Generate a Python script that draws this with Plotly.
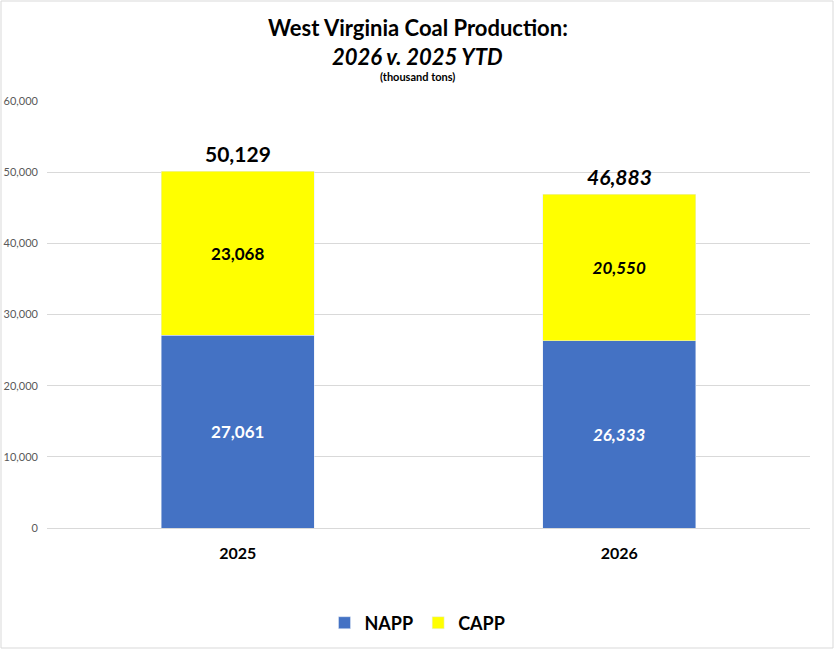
import plotly.graph_objects as go

years = ["2025", "2026"]
napp = [27061, 26333]
capp = [23068, 20550]
totals = [50129, 46883]
label_italic = [False, True]

FONT = "Lato"

W, H = 835, 650
L, R, T, B = 47, 25, 101, 122


def fmt(v, italic):
    s = f"{v:,}"
    return f"<b><i>{s}</i></b>" if italic else f"<b>{s}</b>"


fig = go.Figure()
fig.add_trace(go.Bar(
    x=years, y=napp, name="<b>NAPP</b>", marker_color="#4472C4",
    text=[fmt(v, i) for v, i in zip(napp, label_italic)],
    textposition="inside", insidetextanchor="middle",
    textfont=dict(color="white", size=17, family=FONT),
    hoverinfo="skip",
))
fig.add_trace(go.Bar(
    x=years, y=capp, name="<b>CAPP</b>", marker_color="#FFFF00",
    text=[fmt(v, i) for v, i in zip(capp, label_italic)],
    textposition="inside", insidetextanchor="middle",
    textfont=dict(color="black", size=17, family=FONT),
    hoverinfo="skip",
))

# totals above each stack (category index positions)
for i, (tot, it) in enumerate(zip(totals, label_italic)):
    fig.add_annotation(x=i, y=tot, text=fmt(tot, it), showarrow=False,
                       yanchor="bottom", yshift=3,
                       font=dict(size=21, color="black", family=FONT))

pw, ph = W - L - R, H - T - B
cx = (W / 2 - L) / pw  # centre of the whole chart in plot-area units

# title block
fig.add_annotation(xref="paper", yref="paper", x=cx, y=1 + 74 / ph,
                   text="<b>West Virginia Coal Production:</b>", showarrow=False,
                   yanchor="middle", font=dict(size=22, color="black", family=FONT))
fig.add_annotation(xref="paper", yref="paper", x=cx, y=1 + 45 / ph,
                   text="<b><i>2026 v. 2025 YTD</i></b>", showarrow=False,
                   yanchor="middle", font=dict(size=22, color="black", family=FONT))
fig.add_annotation(xref="paper", yref="paper", x=cx, y=1 + 24 / ph,
                   text="<b>(thousand tons)</b>", showarrow=False,
                   yanchor="middle", font=dict(size=11, color="black", family=FONT))

fig.add_shape(type="rect", xref="paper", yref="paper",
              x0=-(L - 1) / pw, x1=1 + (R - 2) / pw,
              y0=-(B - 2) / ph, y1=1 + (T - 1) / ph,
              line=dict(color="#d9d9d9", width=1), layer="below")

fig.update_layout(
    width=W, height=H,
    margin=dict(l=L, r=R, t=T, b=B, autoexpand=False),
    barmode="stack", bargap=0.6,
    plot_bgcolor="white", paper_bgcolor="white",
    font=dict(family=FONT),
    showlegend=True,
    legend=dict(orientation="h", x=0.5, xanchor="center",
                xref="container", yref="container", y=1 - 623 / H, yanchor="middle",
                font=dict(size=18, color="black", family=FONT),
                traceorder="normal"),
    xaxis=dict(type="category", range=[-0.5, 1.5], showgrid=False, showline=False,
               automargin=False, ticks="", ticklabelstandoff=14,
               tickfont=dict(size=16, color="black", family=FONT),
               tickprefix="<b>", ticksuffix="</b>"),
    yaxis=dict(range=[0, 60000], dtick=10000, tickformat=",",
               showgrid=True, gridcolor="#d9d9d9", gridwidth=1,
               zeroline=True, zerolinecolor="#d9d9d9", zerolinewidth=1,
               showline=False, ticks="", ticklabelstandoff=8, automargin=False,
               tickfont=dict(size=11, color="#595959", family=FONT)),
)

fig.write_html("out.html", config={"displayModeBar": False},
               post_script="document.body.style.margin='0';")
